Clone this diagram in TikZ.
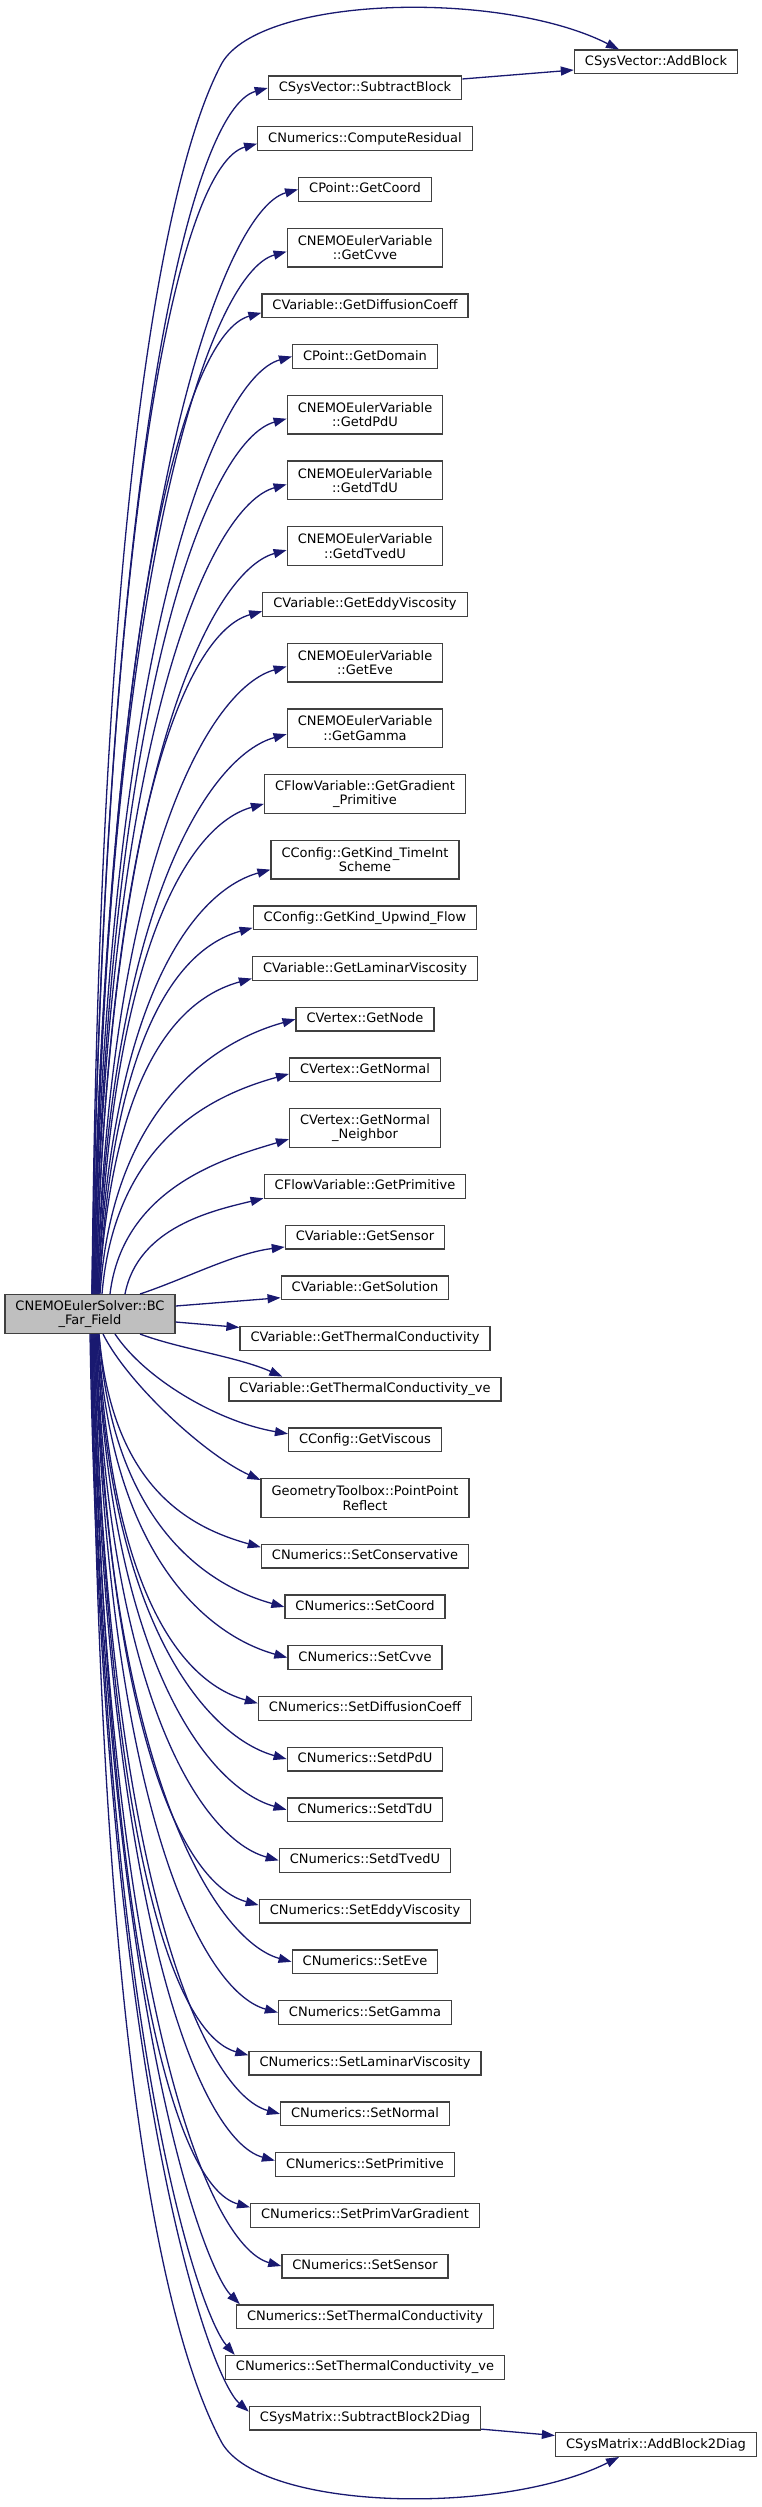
\documentclass[tikz,border=0pt]{standalone}
\usepackage{fontspec}
\setmainfont{DejaVu Sans}
\usetikzlibrary{positioning}
\usetikzlibrary{arrows.meta}

\definecolor{edgeblue}{HTML}{191970}
\definecolor{boxgray}{HTML}{404040}
\definecolor{rootfill}{HTML}{BFBFBF}

\begin{document}
\begin{tikzpicture}[
    x=1pt, y=-1pt,
    node distance=25.7pt,
    box base/.style={
        draw=boxgray, fill=white, line width=1.3pt,
        inner xsep=10.5pt, inner ysep=0pt,
        font=\fontsize{13}{14.3}\selectfont
    },
    func node/.style={box base, minimum height=23.7pt, text height=10pt, text depth=3pt},
    two line/.style={box base, align=center, minimum height=38.7pt},
    call arrow/.style={
        draw=edgeblue, line width=1.3pt,
        -{Triangle[length=13pt, width=9pt]}
    }
  ]

  \useasboundingbox (0,0) rectangle (761,2507);

  \node[two line, fill=rootfill] (root) at (90,1314) {CNEMOEulerSolver::BC\\\_Far\_Field};

  \node[func node] (add_block) at (656,62) {CSysVector::AddBlock};
  \node[func node] (add_2diag) at (656,2444.5) {CSysMatrix::AddBlock2Diag};

  \node[func node] (sub_block) at (365,88) {CSysVector::SubtractBlock};
  \node[func node, below=of sub_block] (compute_res) {CNumerics::ComputeResidual};
  \node[func node, below=of compute_res] (get_coord) {CPoint::GetCoord};
  \node[two line, below=of get_coord] (get_cvve) {CNEMOEulerVariable\\::GetCvve};
  \node[func node, below=of get_cvve] (get_diff) {CVariable::GetDiffusionCoeff};
  \node[func node, below=of get_diff] (get_domain) {CPoint::GetDomain};
  \node[two line, below=of get_domain] (get_dpdu) {CNEMOEulerVariable\\::GetdPdU};
  \node[two line, below=of get_dpdu] (get_dtdu) {CNEMOEulerVariable\\::GetdTdU};
  \node[two line, below=of get_dtdu] (get_dtvedu) {CNEMOEulerVariable\\::GetdTvedU};
  \node[func node, below=of get_dtvedu] (get_eddy) {CVariable::GetEddyViscosity};
  \node[two line, below=of get_eddy] (get_eve) {CNEMOEulerVariable\\::GetEve};
  \node[two line, below=of get_eve] (get_gamma) {CNEMOEulerVariable\\::GetGamma};
  \node[two line, below=of get_gamma] (get_grad) {CFlowVariable::GetGradient\\\_Primitive};
  \node[two line, below=of get_grad] (get_timeint) {CConfig::GetKind\_TimeInt\\Scheme};
  \node[func node, below=of get_timeint] (get_upwind) {CConfig::GetKind\_Upwind\_Flow};
  \node[func node, below=of get_upwind] (get_lam) {CVariable::GetLaminarViscosity};
  \node[func node, below=of get_lam] (get_node) {CVertex::GetNode};
  \node[func node, below=of get_node] (get_normal) {CVertex::GetNormal};
  \node[two line, below=of get_normal] (get_nbr) {CVertex::GetNormal\\\_Neighbor};
  \node[func node, below=of get_nbr] (get_prim) {CFlowVariable::GetPrimitive};
  \node[func node, below=of get_prim] (get_sensor) {CVariable::GetSensor};
  \node[func node, below=of get_sensor] (get_sol) {CVariable::GetSolution};
  \node[func node, below=of get_sol] (get_tc) {CVariable::GetThermalConductivity};
  \node[func node, below=of get_tc] (get_tc_ve) {CVariable::GetThermalConductivity\_ve};
  \node[func node, below=of get_tc_ve] (get_visc) {CConfig::GetViscous};
  \node[two line, below=of get_visc] (pp_reflect) {GeometryToolbox::PointPoint\\Reflect};
  \node[func node, below=of pp_reflect] (set_cons) {CNumerics::SetConservative};
  \node[func node, below=of set_cons] (set_coord) {CNumerics::SetCoord};
  \node[func node, below=of set_coord] (set_cvve) {CNumerics::SetCvve};
  \node[func node, below=of set_cvve] (set_diff) {CNumerics::SetDiffusionCoeff};
  \node[func node, below=of set_diff] (set_dpdu) {CNumerics::SetdPdU};
  \node[func node, below=of set_dpdu] (set_dtdu) {CNumerics::SetdTdU};
  \node[func node, below=of set_dtdu] (set_dtvedu) {CNumerics::SetdTvedU};
  \node[func node, below=of set_dtvedu] (set_eddy) {CNumerics::SetEddyViscosity};
  \node[func node, below=of set_eddy] (set_eve) {CNumerics::SetEve};
  \node[func node, below=of set_eve] (set_gamma) {CNumerics::SetGamma};
  \node[func node, below=of set_gamma] (set_lam) {CNumerics::SetLaminarViscosity};
  \node[func node, below=of set_lam] (set_normal) {CNumerics::SetNormal};
  \node[func node, below=of set_normal] (set_prim) {CNumerics::SetPrimitive};
  \node[func node, below=of set_prim] (set_pvg) {CNumerics::SetPrimVarGradient};
  \node[func node, below=of set_pvg] (set_sensor) {CNumerics::SetSensor};
  \node[func node, below=of set_sensor] (set_tc) {CNumerics::SetThermalConductivity};
  \node[func node, below=of set_tc] (set_tc_ve) {CNumerics::SetThermalConductivity\_ve};
  \node[func node, below=of set_tc_ve] (sub_2diag) {CSysMatrix::SubtractBlock2Diag};

  \coordinate (top_bend) at (222,63);
  \coordinate (bot_bend) at (222,2443);

  % the two long arcs round the column
  \draw[call arrow] ([xshift=2pt]root.north) .. controls +(8,-860) and +(-47,87) .. (top_bend)
      .. controls +(40,-68) and +(-117,-59.5) .. ([xshift=-37pt]add_block.north);
  \draw[call arrow] ([xshift=2pt]root.south) .. controls +(8,776) and +(-47,-87) .. (bot_bend)
      .. controls +(40,68) and +(-117,59) .. ([xshift=-37pt]add_2diag.south);

  \draw[call arrow] ([yshift=9pt]sub_block.east) -- ([yshift=-8pt]add_block.west);
  \draw[call arrow] ([yshift=-11pt]sub_2diag.east) -- ([yshift=9pt]add_2diag.west);

  % calls above the solver
  \draw[call arrow] ([xshift=2pt]root.north) .. controls +(13,-844) and +(-76,21) .. (sub_block.west);
  \draw[call arrow] ([xshift=2pt]root.north) .. controls +(13,-805) and +(-76,21) .. ([yshift=-5pt]compute_res.west);
  \draw[call arrow] ([xshift=3pt]root.north) .. controls +(13,-773) and +(-76,21) .. (get_coord.west);
  \draw[call arrow] ([xshift=3pt]root.north) .. controls +(13,-730) and +(-76,21) .. ([yshift=-4pt]get_cvve.west);
  \draw[call arrow] ([xshift=4pt]root.north) .. controls +(13,-687) and +(-76,21) .. ([yshift=-7pt]get_diff.west);
  \draw[call arrow] ([xshift=4pt]root.north) .. controls +(13,-656) and +(-76,21) .. (get_domain.west);
  \draw[call arrow] ([xshift=5pt]root.north) .. controls +(13,-613) and +(-76,21) .. ([yshift=-4pt]get_dpdu.west);
  \draw[call arrow] ([xshift=5pt]root.north) .. controls +(13,-567) and +(-76,21) .. ([yshift=-4pt]get_dtdu.west);
  \draw[call arrow] ([xshift=6pt]root.north) .. controls +(13,-521) and +(-76,21) .. ([yshift=-4pt]get_dtvedu.west);
  \draw[call arrow] ([xshift=6pt]root.north) .. controls +(13,-478) and +(-76,21) .. ([yshift=-7pt]get_eddy.west);
  \draw[call arrow] ([xshift=7pt]root.north) .. controls +(13,-439) and +(-76,21) .. ([yshift=-4pt]get_eve.west);
  \draw[call arrow] ([xshift=7pt]root.north) .. controls +(13,-392) and +(-76,21) .. ([yshift=-6pt]get_gamma.west);
  \draw[call arrow] ([xshift=8pt]root.north) .. controls +(13,-343) and +(-76,21) .. ([yshift=-10pt]get_grad.west);
  \draw[call arrow] ([xshift=8pt]root.north) .. controls +(13,-297) and +(-76,21) .. ([yshift=-10pt]get_timeint.west);
  \draw[call arrow] ([xshift=9pt]root.north) .. controls +(13,-256) and +(-76,21) .. ([yshift=-10pt]get_upwind.west);
  \draw[call arrow] ([xshift=9pt]root.north) .. controls +(13,-221) and +(-76,21) .. ([yshift=-10pt]get_lam.west);
  \draw[call arrow] ([xshift=10pt]root.north) .. controls +(13,-192) and +(-76,21) .. (get_node.west);
  \draw[call arrow] ([xshift=12pt]root.north) .. controls +(13,-154) and +(-76,21) .. ([yshift=-4pt]get_normal.west);
  \draw[call arrow] ([xshift=20pt]root.north) .. controls +(13,-108) and +(-60,18) .. ([yshift=-11pt]get_nbr.west);
  \draw[call arrow] ([xshift=35pt]root.north) .. controls +(13,-67) and +(-50,12) .. ([yshift=-12pt]get_prim.west);
  \draw[call arrow] ([xshift=50pt]root.north) .. controls +(45,-15) and +(-50,6) .. ([yshift=-10pt]get_sensor.west);

  % calls beside the solver
  \draw[call arrow] ([yshift=8pt]root.east) -- ([yshift=-10pt]get_sol.west);
  \draw[call arrow] ([yshift=-8pt]root.east) -- ([yshift=11pt]get_tc.west);
  \draw[call arrow] ([xshift=50pt]root.south) .. controls +(40,15) and +(-45,-20) .. ([xshift=54pt]get_tc_ve.north west);
  \draw[call arrow] ([xshift=25pt]root.south) .. controls +(30,45) and +(-70,-12) .. ([yshift=6pt]get_visc.west);
  \draw[call arrow] ([xshift=13pt]root.south) .. controls +(25,50) and +(-55,-25) .. ([yshift=-2pt]pp_reflect.north west);

  % calls below the solver
  \draw[call arrow] ([xshift=9pt]root.south) .. controls +(13,149) and +(-76,-21) .. ([yshift=9pt]set_cons.west);
  \draw[call arrow] ([xshift=9pt]root.south) .. controls +(13,191) and +(-76,-21) .. (set_coord.west);
  \draw[call arrow] ([xshift=8pt]root.south) .. controls +(13,227) and +(-76,-21) .. (set_cvve.west);
  \draw[call arrow] ([xshift=8pt]root.south) .. controls +(13,259) and +(-76,-21) .. ([yshift=5pt]set_diff.west);
  \draw[call arrow] ([xshift=7pt]root.south) .. controls +(13,298) and +(-76,-21) .. (set_dpdu.west);
  \draw[call arrow] ([xshift=7pt]root.south) .. controls +(13,333) and +(-76,-21) .. (set_dtdu.west);
  \draw[call arrow] ([xshift=6pt]root.south) .. controls +(13,368) and +(-76,-21) .. (set_dtvedu.west);
  \draw[call arrow] ([xshift=6pt]root.south) .. controls +(13,400) and +(-76,-21) .. ([yshift=6pt]set_eddy.west);
  \draw[call arrow] ([xshift=5pt]root.south) .. controls +(13,439) and +(-76,-21) .. (set_eve.west);
  \draw[call arrow] ([xshift=5pt]root.south) .. controls +(13,475) and +(-76,-21) .. (set_gamma.west);
  \draw[call arrow] ([xshift=4pt]root.south) .. controls +(13,505) and +(-76,-21) .. ([yshift=8pt]set_lam.west);
  \draw[call arrow] ([xshift=4pt]root.south) .. controls +(13,546) and +(-76,-21) .. (set_normal.west);
  \draw[call arrow] ([xshift=3pt]root.south) .. controls +(13,579) and +(-76,-21) .. ([yshift=4pt]set_prim.west);
  \draw[call arrow] ([xshift=3pt]root.south) .. controls +(13,611) and +(-76,-21) .. ([yshift=8pt]set_pvg.west);
  \draw[call arrow] ([xshift=2pt]root.south) .. controls +(13,652) and +(-76,-21) .. (set_sensor.west);
  \draw[call arrow] ([xshift=1pt]root.south) .. controls +(13,680) and +(-35,-35) .. ([xshift=4pt]set_tc.north west);
  \draw[call arrow] ([xshift=1pt]root.south) .. controls +(13,715) and +(-35,-40) .. ([xshift=10pt]set_tc_ve.north west);
  \draw[call arrow] (root.south) .. controls +(13,750) and +(-40,-35) .. ([yshift=-6pt]sub_2diag.north west);

\end{tikzpicture}
\end{document}
